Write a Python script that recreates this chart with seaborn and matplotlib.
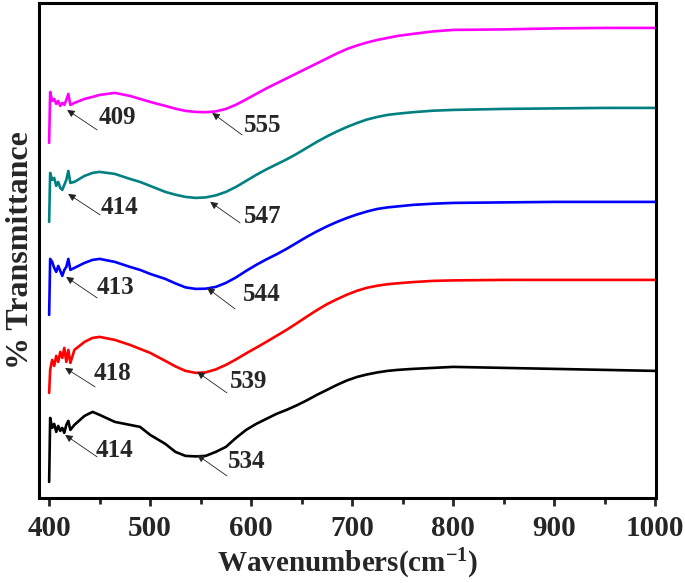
import numpy as np
import pandas as pd
import matplotlib
matplotlib.use("Agg")
import matplotlib.pyplot as plt
import seaborn as sns

# ---------------------------------------------------------------------------
# Data (offset FTIR spectra, arbitrary units)
# values are image depth from the top, converted to transmittance below
# ---------------------------------------------------------------------------
wavenumber = [400, 401, 403, 405, 407, 409, 411, 413, 415, 417, 419, 421, 425,
              435, 443, 450, 465, 480, 490, 500,
              515,
              525, 535, 545, 555, 565, 575, 585, 595, 605, 615, 625, 635, 645,
              655, 665, 675, 685, 695, 705, 715, 725, 735, 745,
              760, 780, 800, 850, 900, 950, 1000]

depth_magenta = [143, 92, 101, 99, 104, 101, 106, 103, 105, 100, 94, 105, 103,
                 99, 97, 95, 93, 96, 99, 102,
                 106,
                 108.8, 111, 112, 112.3, 111.5, 109, 104.8, 99.5, 94, 88.5, 83.5,
                 78.5, 73.5, 68.5, 63.5, 58.5, 53.5, 49, 45.5, 42.5, 40, 38, 36,
                 34, 31.5, 30, 29.5, 28.5, 28, 28]
depth_teal = [222, 173, 180, 178, 186, 182, 188, 190, 185, 180, 171, 183, 182,
              176, 173, 172, 174, 179, 182, 186,
              192,
              194.8, 197, 198, 197.5, 195.5, 192, 187, 181, 175, 169.5, 164.5,
              159.5, 154, 148, 142, 136.5, 131.5, 127, 123, 119.5, 117, 115, 113.8,
              112.3, 110.8, 110, 109, 108.5, 108, 108]
depth_blue = [315, 259, 262, 268, 272, 266, 271, 276, 270, 267, 259, 270, 268,
              263, 260, 259, 262, 267, 270, 274,
              279,
              283.5, 287.5, 289, 288.8, 287, 283, 277.5, 271, 265, 259.5, 254.5,
              249, 243, 237, 231.5, 226.5, 222, 218, 214.5, 211.5, 209, 207.5, 206.5,
              205, 203.8, 203, 202.5, 202, 202, 202]
depth_red = [393, 370, 360, 366, 356, 362, 352, 358, 348, 362, 350, 363, 350,
             342, 338, 337, 340, 345, 349, 353,
             361,
             366.5, 371, 373, 372.5, 369.5, 365, 359.5, 353.5, 347.8, 342, 336,
             330, 323.5, 316.8, 310.3, 304.3, 299.3, 294.7, 290.8, 287.8, 285.8,
             284.3, 283.4,
             282.2, 281, 280.5, 280, 280, 280, 280]
depth_black = [482, 418, 428, 424, 432, 426, 431, 428, 433, 425, 421, 430, 425,
               416, 412, 415, 422, 425, 427, 435,
               444,
               452, 456, 456.5, 456, 452, 447, 438, 430, 424, 419, 414, 410, 405.5,
               400.5, 395, 390, 385, 380.5, 377, 374.5, 372.5, 371, 370,
               369, 368, 367, 368, 369, 370, 371]

samples = ["a", "b", "c", "d", "e"]
colors = ["#000000", "#FF0000", "#0000FF", "#008080", "#FF00FF"]
depths = [depth_black, depth_red, depth_blue, depth_teal, depth_magenta]

# peak labels: (text, text pos, arrow tail, arrow tip) in (wavenumber, T)
peak_labels = ["414", "534", "418", "539", "413", "544", "414", "547", "409", "555"]
label_pos = [(465, 49), (596, 38), (463, 126), (597, 118), (466, 212),
             (610, 205), (470, 292), (611, 283), (468, 382), (611, 374)]
arrow_tail = [(447.5, 43), (576, 24), (445.5, 113), (576, 107), (447.5, 202),
              (584, 191), (450.5, 285), (589, 277), (447.5, 370), (591, 365)]
arrow_tip = [(415.8, 65), (546.5, 45), (415.8, 132), (546.5, 128), (416.8, 223),
             (556.4, 212), (418.8, 306), (559.4, 298), (417.8, 390), (561.4, 387)]

# ---------------------------------------------------------------------------
# Build long table
# ---------------------------------------------------------------------------
frames = []
for s, d in zip(samples, depths):
    frames.append(pd.DataFrame({
        "wavenumber": wavenumber,
        "transmittance": 500 - np.array(d, dtype=float),
        "sample": s,
    }))
df = pd.concat(frames, ignore_index=True)

# ---------------------------------------------------------------------------
# Plot
# ---------------------------------------------------------------------------
sns.set_style("ticks")
plt.rcParams["font.family"] = ["Liberation Serif", "DejaVu Serif"]
plt.rcParams["font.weight"] = "bold"
plt.rcParams["mathtext.fontset"] = "custom"
plt.rcParams["mathtext.rm"] = "Liberation Serif:bold"
plt.rcParams["mathtext.default"] = "rm"

fig = plt.figure(figsize=(6.85, 5.83), dpi=100)
ax = fig.add_axes([0.057, 0.146, 0.901, 0.849])

sns.lineplot(data=df, x="wavenumber", y="transmittance", hue="sample",
             palette=dict(zip(samples, colors)), estimator=None, sort=False,
             linewidth=1.9, legend=False, ax=ax)

for txt, pos, tail, tip in zip(peak_labels, label_pos, arrow_tail, arrow_tip):
    ax.annotate("", xy=tip, xytext=tail,
                arrowprops=dict(arrowstyle="-|>", color="#222222", lw=0.6,
                                mutation_scale=11, shrinkA=0, shrinkB=0))
    ax.text(pos[0], pos[1], txt, fontsize=18, fontweight="bold",
            ha="center", va="center")

ax.set_xlim(390, 1001)
ax.set_ylim(2, 497)
ax.set_xticks(np.arange(400, 1001, 100))
ax.set_xticks(np.arange(450, 1000, 100), minor=True)
ax.set_yticks([])
ax.tick_params(axis="x", which="major", direction="out", length=6, width=2,
               labelsize=21, pad=6)
ax.tick_params(axis="x", which="minor", direction="out", length=4, width=2)
for sp in ax.spines.values():
    sp.set_linewidth(2.2)
    sp.set_color("black")

ax.set_xlabel("Wavenumbers(cm$^{-1}$)", fontsize=21, fontweight="bold", labelpad=4)
ax.set_ylabel("% Transmittance", fontsize=23, fontweight="bold", labelpad=3)

fig.savefig("out.png", dpi=100)
